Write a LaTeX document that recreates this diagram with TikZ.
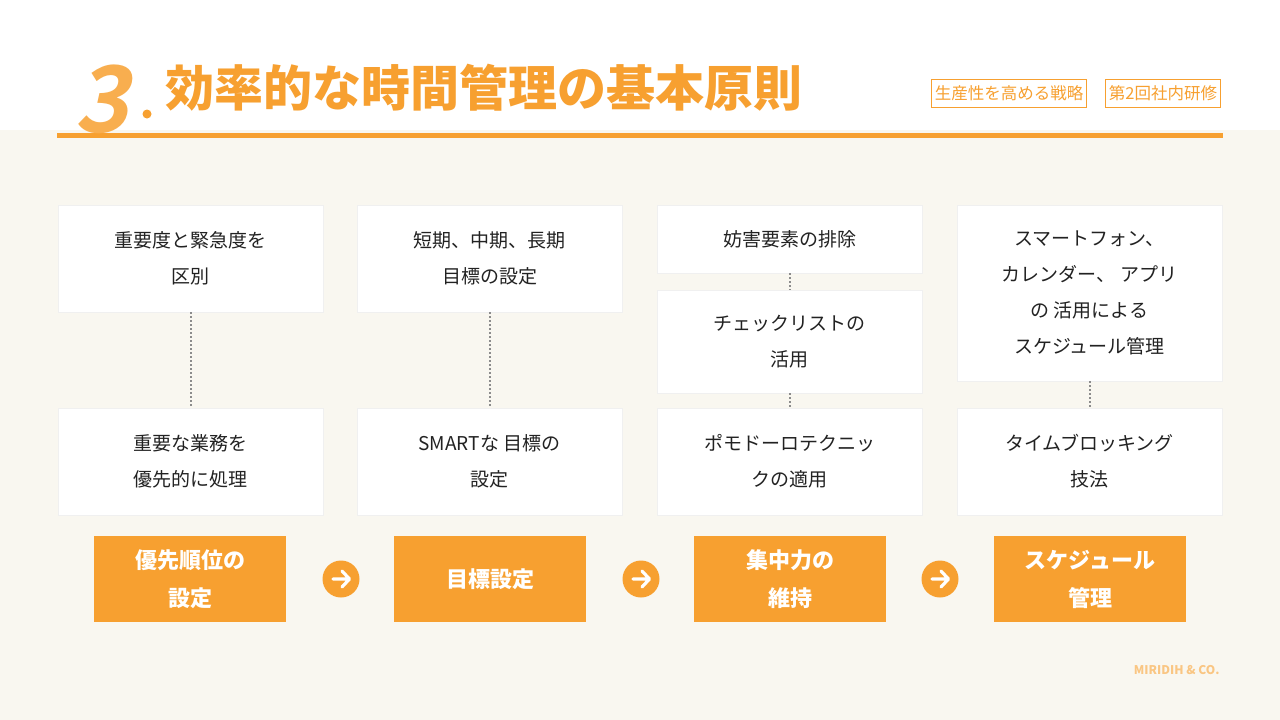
\documentclass[tikz,border=0pt]{standalone}
\usepackage{fontspec}
\setmainfont{Noto Sans CJK JP}
\newfontfamily\slantfont{Noto Sans CJK JP Bold}[FakeSlant=0.22]
\definecolor{org}{HTML}{F7A030}
\definecolor{cream}{HTML}{F9F7F0}
\definecolor{txt}{HTML}{222222}
\begin{document}
\begin{tikzpicture}[x=1pt,y=-1pt,
  card/.style={fill=white,draw=black!6,line width=0.6pt,inner sep=0pt},
  cardtxt/.style={text=txt,font=\fontsize{19}{36}\selectfont,align=center},
  stage/.style={fill=org,inner sep=0pt},
  stagetxt/.style={text=white,font=\fontsize{22}{38}\selectfont\bfseries,align=center},
  dots/.style={draw=black!45,line width=2pt,dash pattern=on 2pt off 2pt},
  tag/.style={draw=org,line width=1pt,text=org,font=\fontsize{16.5}{18}\selectfont,minimum height=28pt,inner xsep=3pt}]
\fill[white] (0,0) rectangle (1280,720);
\fill[cream] (0,130) rectangle (1280,720);
\useasboundingbox (0,0) rectangle (1280,720);
\fill[org] (57,132.5) rectangle (1223,138);
\node[text=org!85,font=\fontsize{92}{92}\selectfont\slantfont,anchor=base] (num) at (102,132) {3};
\fill[org] (147,114) circle (4.5);
\node[text=org,font=\fontsize{49}{49}\selectfont\bfseries,anchor=west] (title) at (162,88) {効率的な時間管理の基本原則};
\node[tag] (t1) at (1009,93) {生産性を高める戦略};
\node[tag] (t2) at (1163,93) {第2回社内研修};
\def\card#1#2#3#4#5{\node[card,minimum width=265pt,minimum height=#4pt] (#1) at (#2,#3) {}; \node[cardtxt] at (#1) {#5};}
\card{a1}{190.5}{258.5}{107}{重要度と緊急度を\\区別}
\card{a2}{190.5}{461.5}{107}{重要な業務を\\優先的に処理}
\card{b1}{489.5}{258.5}{107}{短期、中期、長期\\目標の設定}
\card{b2}{489.5}{461.5}{107}{SMARTな 目標の\\設定}
\card{c1}{789.5}{239}{68}{妨害要素の排除}
\card{c2}{789.5}{341.5}{103}{チェックリストの\\活用}
\card{c3}{789.5}{461.5}{107}{ポモドーロテクニッ\\クの適用}
\card{d1}{1089.5}{293}{176}{スマートフォン、\\カレンダー、 アプリ\\の 活用による\\スケジュール管理}
\card{d2}{1089.5}{461.5}{107}{タイムブロッキング\\技法}
\draw[dots] (a1.south) -- (a2.north);
\draw[dots] (b1.south) -- (b2.north);
\draw[dots] (c1.south) -- (c2.north);
\draw[dots] (c2.south) -- (c3.north);
\draw[dots] (d1.south) -- (d2.north);
\node[stage,minimum width=192pt,minimum height=86pt] (s1) at (190,579) {};
\node[stagetxt] at (s1) {優先順位の\\設定};
\node[stage,minimum width=192pt,minimum height=86pt] (s2) at (490,579) {};
\node[stagetxt] at (s2) {目標設定};
\node[stage,minimum width=192pt,minimum height=86pt] (s3) at (790,579) {};
\node[stagetxt] at (s3) {集中力の\\維持};
\node[stage,minimum width=192pt,minimum height=86pt] (s4) at (1090,579) {};
\node[stagetxt] at (s4) {スケジュール\\管理};
\foreach \x/\n in {341/ar1,641/ar2,940/ar3}{
  \node[circle,fill=org,minimum size=37pt,inner sep=0pt] (\n) at (\x,579) {};
  \draw[white,line width=3.2pt,line cap=round,line join=round] (\x-8,579) -- (\x+8,579) (\x+1,571) -- (\x+8.5,579) -- (\x+1,587);
}
\node[text=org!60,font=\fontsize{12}{12}\selectfont\bfseries,anchor=east] (brand) at (1223,670) {MIRIDIH \& CO.};
\end{tikzpicture}
\end{document}
